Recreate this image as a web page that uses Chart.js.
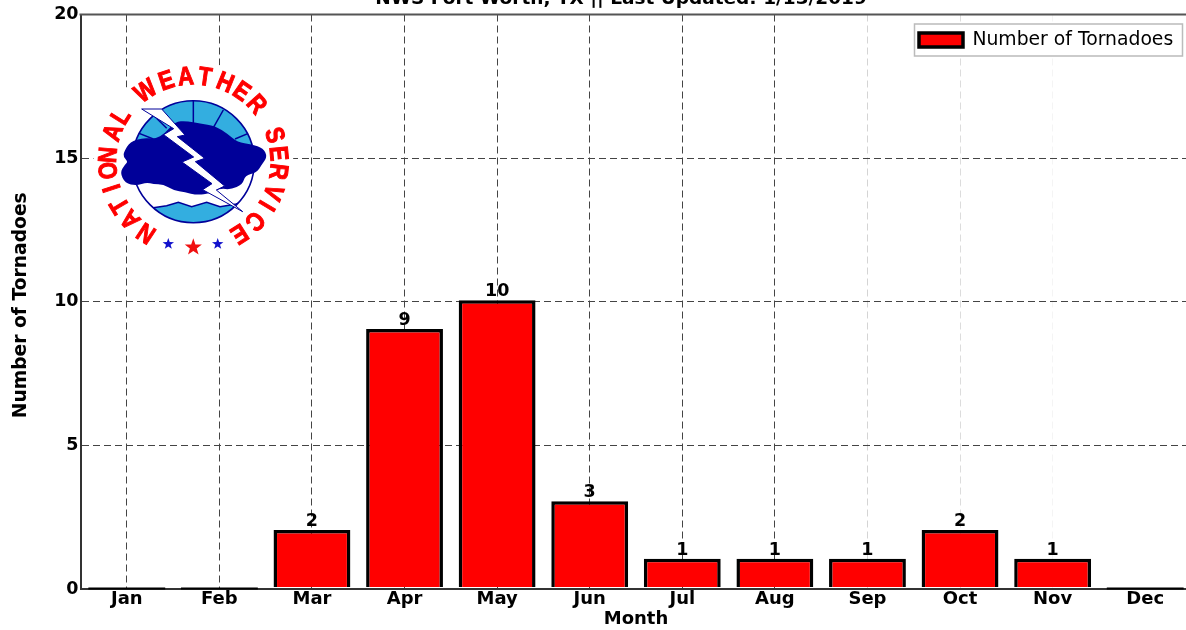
<!DOCTYPE html>
<html><head><meta charset="utf-8">
<style>html,body{margin:0;padding:0;background:#fff;overflow:hidden;width:1186px;height:630px}
#wrap{position:absolute;left:0;top:-12px;width:1242px;height:642px}</style>
<script src="https://cdn.jsdelivr.net/npm/chart.js@4"></script></head>
<body><div id="wrap"><canvas id="c" width="1242" height="642"></canvas></div>
<script>
const months=['Jan','Feb','Mar','Apr','May','Jun','Jul','Aug','Sep','Oct','Nov','Dec'];
const tornadoes=[0,0,2,9,10,3,1,1,1,2,1,0];
const seriesName='Number of Tornadoes';
const chartTitle='NWS Fort Worth, TX || Last Updated: 1/13/2019';
const xTitle='Month', yTitle='Number of Tornadoes';
const gridColors=['#444','#444','#444','#444','#444','#444','#444','#444','#d4d4d4','#dcdcdc','#f4f4f4','#ffffff'];
const FONT='"DejaVu Sans"';

function star(ctx,x,y,r,color){ctx.beginPath();for(let i=0;i<10;i++){const a=-Math.PI/2+i*Math.PI/5,q=i%2?r*0.4:r;ctx.lineTo(x+q*Math.cos(a),y+q*Math.sin(a));}ctx.closePath();ctx.fillStyle=color;ctx.fill();}
const logoLetters=[['N',-146.6],['A',-132.5],['T',-120.8],['I',-108],['O',-96],['N',-85.5],['A',-70],['L',-58],
['W',-34],['E',-18.4],['A',-5],['T',8],['H',22],['E',34.6],['R',48],
['S',72],['E',84.5],['R',96.6],['V',111],['I',121],['C',134],['E',147.5]];
function drawLogo(ctx){
  const NAVY='#000099',SKY='#33aee0';
  const Z=(x,y)=>[120+x/3,95+y/3];
  const cx=193.3,cy=161.7,r=61;
  ctx.save();
  ctx.translate(0,12);
  ctx.beginPath();ctx.arc(cx,cy,100,0,Math.PI*2);ctx.fillStyle='#fff';ctx.fill();
  // letters
  ctx.fillStyle='#ff0000';ctx.strokeStyle='#ff0000';ctx.lineWidth=1;ctx.textAlign='center';ctx.textBaseline='alphabetic';ctx.font='bold 26px "Liberation Sans"';
  logoLetters.forEach(([ch,deg])=>{const a=deg*Math.PI/180;ctx.save();ctx.translate(cx+86.5*Math.sin(a),cy-86.5*Math.cos(a));ctx.rotate(a);ctx.scale(0.85,1);ctx.fillText(ch,0,9.3);ctx.strokeText(ch,0,9.3);ctx.restore();});
  star(ctx,168.3,244,6,'#1111cc');star(ctx,217.7,244,6,'#1111cc');star(ctx,193.3,247.3,9,'#f01010');
  // disc
  ctx.beginPath();ctx.arc(cx,cy,r,0,Math.PI*2);ctx.fillStyle=SKY;ctx.fill();
  ctx.save();ctx.clip();
  ctx.fillStyle='#fff';ctx.beginPath();
  const wave=[[20,335],[60,338],[100,338],[140,332],[175,322],[215,335],[260,322],[300,335],[345,328],[420,300]];
  ctx.moveTo(...Z(20,200));ctx.lineTo(...Z(420,200));
  wave.slice().reverse().forEach(p=>ctx.lineTo(...Z(p[0],p[1])));ctx.closePath();ctx.fill();
  ctx.strokeStyle=NAVY;ctx.lineWidth=1.5;ctx.beginPath();wave.forEach((p,i)=>{const q=Z(p[0],p[1]);i?ctx.lineTo(...q):ctx.moveTo(...q);});ctx.stroke();
  [[220,15,220,95],[310,45,280,98],[385,115,345,132],[50,112,100,132],[100,60,140,100]].forEach(s=>{ctx.beginPath();ctx.moveTo(...Z(s[0],s[1]));ctx.lineTo(...Z(s[2],s[3]));ctx.stroke();});
  ctx.restore();
  ctx.strokeStyle=NAVY;ctx.lineWidth=1.6;ctx.beginPath();ctx.arc(cx,cy,r,0,Math.PI*2);ctx.stroke();
  // cloud
  const cloud=[[12,170],[30,140],[70,128],[105,132],[135,115],[165,80],[200,78],[240,86],[285,92],[325,118],[352,142],[395,148],[430,160],[442,185],[425,210],[410,232],[375,242],[368,268],[332,284],[300,280],[272,296],[230,300],[195,292],[160,286],[130,268],[100,268],[80,262],[50,272],[15,265],[0,232],[14,210],[24,200],[10,185]];
  ctx.fillStyle=NAVY;ctx.beginPath();
  const mid=(a,b)=>Z((a[0]+b[0])/2,(a[1]+b[1])/2);
  ctx.moveTo(...mid(cloud[cloud.length-1],cloud[0]));
  cloud.forEach((p,i)=>{const n=cloud[(i+1)%cloud.length];ctx.quadraticCurveTo(...Z(p[0],p[1]),...mid(p,n));});
  ctx.closePath();ctx.fill();
  // bolt
  const bolt=[[65,42],[125,42],[195,120],[172,125],[254,190],[226,200],[314,273],[289,285],[368,350],[248,284],[276,266],[186,201],[221,186],[131,119],[161,101]];
  ctx.beginPath();bolt.forEach((p,i)=>{const q=Z(p[0],p[1]);i?ctx.lineTo(...q):ctx.moveTo(...q);});ctx.closePath();ctx.fillStyle='#fff';ctx.fill();ctx.strokeStyle=NAVY;ctx.lineWidth=1;ctx.stroke();
  ctx.restore();
}
const extras={id:'extras',
  beforeDraw(chart){
    const a=chart.chartArea,l=chart.legend,t=chart.titleBlock,ys=chart.scales.y;
    t.left=0;t.right=1242;
    l.left=919-l.options.labels.padding;l.top=a.top+16-l.options.labels.padding;
    l.right=l.left+277;l.bottom=l.top+40;
    if(!ys._shifted){const d=ys.drawTitle;ys._shifted=true;ys.drawTitle=function(){const c=this.ctx;c.save();c.translate(0,3.5);d.apply(this,arguments);c.restore();};}
  },
  beforeDatasetsDraw(chart){drawLogo(chart.ctx);},
  beforeDatasetDraw(chart){chart.ctx.save();chart.ctx.translate(0,-1.5);},
  afterDatasetDraw(chart){chart.ctx.restore();},
  afterDraw(chart){
    const ctx=chart.ctx,a=chart.chartArea,meta=chart.getDatasetMeta(0);
    // top spine
    ctx.save();ctx.strokeStyle='#555';ctx.lineWidth=2;ctx.beginPath();ctx.moveTo(a.left-1,a.top);ctx.lineTo(a.right,a.top);ctx.stroke();
    // zero-height bars and value labels
    ctx.fillStyle='#000';ctx.textAlign='center';ctx.textBaseline='alphabetic';ctx.font='bold 17.5px '+FONT;
    meta.data.forEach((b,i)=>{
      const v=tornadoes[i];
      if(v===0){ctx.strokeStyle='#000';ctx.lineWidth=2;ctx.beginPath();ctx.moveTo(b.x-b.width/2,b.base-0.5);ctx.lineTo(b.x+b.width/2,b.base-0.5);ctx.stroke();}
      else ctx.fillText(String(v),b.x,b.y-5.5);
    });
    // legend frame, legend redrawn over it
    ctx.strokeStyle='#bbb';ctx.lineWidth=1.5;ctx.fillStyle='#fff';
    ctx.beginPath();ctx.rect(914.5,36,268,32);ctx.fill();ctx.stroke();
    ctx.restore();
    chart.legend.draw();
  }};
new Chart(document.getElementById('c'),{
  type:'bar',
  data:{labels:months,datasets:[{label:seriesName,data:tornadoes,backgroundColor:'#ff0000',borderColor:'#000',borderWidth:3.5,borderSkipped:'bottom',barPercentage:0.83,categoryPercentage:1}]},
  plugins:[extras],
  options:{responsive:false,animation:false,
    layout:{padding:{left:0,right:50.5,top:0,bottom:0}},
    plugins:{
      tooltip:{enabled:false},
      title:{display:true,text:chartTitle,color:'#000',font:{family:FONT,size:18.5,weight:'bold',lineHeight:1.2},padding:{top:0,bottom:4.3}},
      legend:{position:'chartArea',align:'start',labels:{boxWidth:44,boxHeight:14,padding:6,color:'#000',font:{family:FONT,size:18.8}}}
    },
    scales:{
      x:{offset:true,afterFit(s){s.height=41;},
        grid:{color:c=>gridColors[c.index],drawTicks:false,tickLength:0,offset:false},
        border:{color:'#333',width:2,dash:[7,4]},
        ticks:{color:'#000',padding:0,maxRotation:0,font:{family:FONT,size:18,weight:'bold'}},
        title:{display:true,text:xTitle,color:'#000',font:{family:FONT,size:18,weight:'bold'},padding:0}},
      y:{min:0,max:20,afterFit(s){s.width=80.5;},
        grid:{color:'#444',drawTicks:false,tickLength:0},
        border:{color:'#333',width:2,dash:[7,4]},
        ticks:{stepSize:5,color:'#000',padding:2,font:{family:FONT,size:17.5,weight:'bold'}},
        title:{display:true,text:yTitle,color:'#000',font:{family:FONT,size:18.7,weight:'bold'},padding:{top:10,bottom:0}}}
    }
  }
});
</script></body></html>
